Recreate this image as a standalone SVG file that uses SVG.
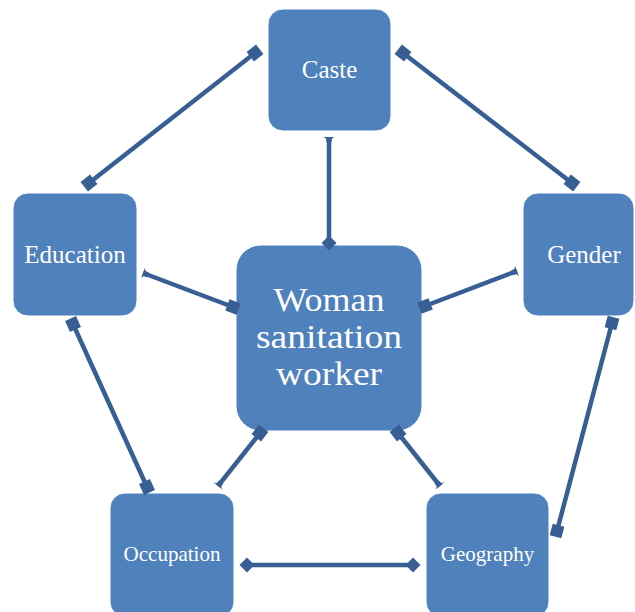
<svg xmlns="http://www.w3.org/2000/svg" width="635" height="612" viewBox="0 0 635 612">
<style>
.box{fill:#4f81bd;stroke:#ffffff;stroke-width:1}
.t{fill:#ffffff;font-family:"Liberation Serif","DejaVu Serif",serif;text-anchor:middle}
.c{stroke:#375f94;stroke-width:4.5;fill:none}
</style>
<defs>
<marker id="sq" viewBox="-7 -7 14 14" markerWidth="14" markerHeight="14" markerUnits="userSpaceOnUse" refX="0" refY="0" orient="auto-start-reverse">
<path d="M-6,-6 H6 V6 H-6 Z" fill="#375f94"/>
</marker>
<marker id="dm" viewBox="-8 -8 16 16" markerWidth="16" markerHeight="16" markerUnits="userSpaceOnUse" refX="0" refY="0" orient="auto-start-reverse">
<path d="M-7.5,0 L0,-7.5 L7.5,0 L0,7.5 Z" fill="#375f94"/>
</marker>
<marker id="fl" viewBox="-6 -6 7 12" markerWidth="7" markerHeight="12" markerUnits="userSpaceOnUse" refX="0" refY="0" orient="auto-start-reverse">
<path d="M-6,-2.2 L-1.5,-3 L0,-5.5 L0,5.5 L-1.5,3 L-6,2.2 Z" fill="#375f94"/>
</marker>
</defs>
<g id="caste">
<rect class="box" x="268" y="9" width="123" height="122" rx="15"/>
<text class="t" x="329.5" y="78" font-size="25">Caste</text>
</g>
<g id="education">
<rect class="box" x="13" y="193" width="124" height="123" rx="15"/>
<text class="t" x="75" y="263" font-size="25">Education</text>
</g>
<g id="gender">
<rect class="box" x="523" y="193" width="111" height="123" rx="15"/>
<text class="t" x="584" y="263" font-size="25">Gender</text>
</g>
<g id="center">
<rect class="box" x="236" y="245" width="186" height="186" rx="25"/>
<text class="t" x="329" y="311" font-size="33" textLength="111" lengthAdjust="spacingAndGlyphs">Woman</text>
<text class="t" x="329" y="348" font-size="33" textLength="146" lengthAdjust="spacingAndGlyphs">sanitation</text>
<text class="t" x="329" y="385" font-size="33" textLength="106" lengthAdjust="spacingAndGlyphs">worker</text>
</g>
<g id="occupation">
<rect class="box" x="110" y="493" width="124" height="124" rx="15"/>
<text class="t" x="172" y="561" font-size="21">Occupation</text>
</g>
<g id="geography">
<rect class="box" x="426" y="493" width="123" height="124" rx="15"/>
<text class="t" x="487.5" y="561" font-size="21">Geography</text>
</g>
<g id="connectors">
<line class="c" x1="255" y1="53" x2="89" y2="183" marker-start="url(#sq)" marker-end="url(#sq)"/>
<line class="c" x1="403" y1="53" x2="572" y2="183" marker-start="url(#sq)" marker-end="url(#sq)"/>
<line class="c" x1="329" y1="137" x2="329" y2="243" marker-start="url(#fl)" marker-end="url(#dm)"/>
<line class="c" x1="143" y1="273" x2="233" y2="307" marker-start="url(#fl)" marker-end="url(#sq)"/>
<line class="c" x1="517" y1="271" x2="425" y2="306" marker-start="url(#fl)" marker-end="url(#sq)"/>
<line class="c" x1="73" y1="324" x2="147" y2="487" marker-start="url(#sq)" marker-end="url(#sq)"/>
<line class="c" x1="612" y1="323" x2="557" y2="531" marker-start="url(#sq)" marker-end="url(#sq)"/>
<line class="c" x1="260" y1="433" x2="218" y2="486" marker-start="url(#sq)" marker-end="url(#fl)"/>
<line class="c" x1="398" y1="433" x2="440" y2="486" marker-start="url(#sq)" marker-end="url(#fl)"/>
<line class="c" x1="247" y1="565" x2="413" y2="565" marker-start="url(#dm)" marker-end="url(#dm)"/>
</g>
</svg>
